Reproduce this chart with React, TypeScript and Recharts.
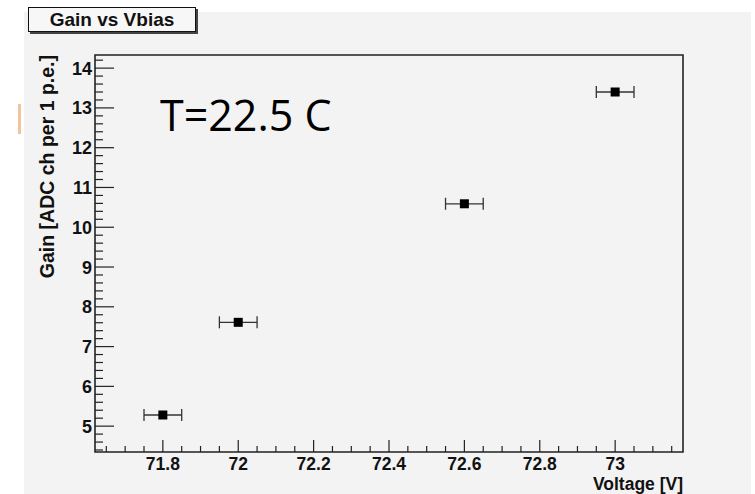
import { ScatterChart, Scatter, XAxis, YAxis, ErrorBar, ReferenceArea } from "recharts";

// measured points: bias voltage [V] vs gain [ADC ch per 1 p.e.]
const voltage = [71.8, 72.0, 72.6, 73.0];
const gain = [5.28, 7.61, 10.59, 13.4];
const voltageErr = [0.05, 0.05, 0.05, 0.05];

const xMajor = [71.8, 72, 72.2, 72.4, 72.6, 72.8, 73];
const yMajor = [5, 6, 7, 8, 9, 10, 11, 12, 13, 14];

const X_DOMAIN: [number, number] = [71.62, 73.18];
const Y_DOMAIN: [number, number] = [4.35, 14.33];

const points = voltage.map((v, i) => ({ v, g: gain[i], vErr: voltageErr[i] }));

// minor ticks: 4 divisions on x, 5 on y (ROOT style)
const subdivide = (step: number, domain: [number, number]) => {
  const out: number[] = [];
  const start = Math.ceil(domain[0] / step - 1e-6);
  const end = Math.floor(domain[1] / step + 1e-6);
  for (let i = start; i <= end; i++) out.push(Math.round(i * step * 1000) / 1000);
  return out;
};
const xTicks = subdivide(0.05, X_DOMAIN);
const yTicks = subdivide(0.2, Y_DOMAIN);

const isMajor = (val: number, majors: number[]) => majors.some((m) => Math.abs(m - val) < 1e-6);

const FONT = "'Liberation Sans', Arial, sans-serif";

const XTick = (props: any) => {
  const { x, y, payload } = props;
  const major = isMajor(payload.value, xMajor);
  return (
    <g>
      <line x1={x} y1={y} x2={x} y2={y - (major ? 12 : 6)} stroke="#222" strokeWidth={1.2} />
      {major && (
        <text x={x} y={y + 18} textAnchor="middle" fontFamily={FONT} fontWeight="bold" fontSize={17.5} fill="#111">
          {payload.value}
        </text>
      )}
    </g>
  );
};

const YTick = (props: any) => {
  const { x, y, payload } = props;
  const major = isMajor(payload.value, yMajor);
  return (
    <g>
      <line x1={x} y1={y} x2={x + (major ? 19 : 8)} y2={y} stroke="#222" strokeWidth={1.2} />
      {major && (
        <text x={x - 3} y={y + 6.5} textAnchor="end" fontFamily={FONT} fontWeight="bold" fontSize={18} fill="#111">
          {payload.value}
        </text>
      )}
    </g>
  );
};

const Marker = (props: any) => {
  const { cx, cy } = props;
  return <rect x={cx - 4.5} y={cy - 4.5} width={9} height={9} fill="#000" />;
};

export default function App() {
  return (
    <div style={{ position: "absolute", left: 0, top: 0, width: 755, height: 494, background: "#fff", overflow: "hidden" }}>
      {/* canvas pad */}
      <div style={{ position: "absolute", left: 24, top: 12, width: 727, height: 482, background: "#f3f3f3" }} />
      {/* stray orange mark from the slide */}
      <div style={{ position: "absolute", left: 18, top: 104, width: 3, height: 30, background: "#f2c49a" }} />

      <div style={{ position: "absolute", left: 0, top: 0 }}>
        <ScatterChart width={755} height={494} margin={{ top: 55, right: 72, left: 35, bottom: 0 }}>
          <XAxis
            type="number"
            dataKey="v"
            domain={X_DOMAIN}
            ticks={xTicks}
            interval={0}
            tick={<XTick />}
            tickLine={false}
            axisLine={false}
            tickSize={0}
            tickMargin={0}
            height={42}
            allowDataOverflow
          />
          <YAxis
            type="number"
            dataKey="g"
            domain={Y_DOMAIN}
            ticks={yTicks}
            interval={0}
            tick={<YTick />}
            tickLine={false}
            axisLine={false}
            tickSize={0}
            tickMargin={0}
            width={60}
            allowDataOverflow
          />
          <ReferenceArea
            x1={X_DOMAIN[0]}
            x2={X_DOMAIN[1]}
            y1={Y_DOMAIN[0]}
            y2={Y_DOMAIN[1]}
            fill="none"
            stroke="#222"
            strokeWidth={1.6}
            ifOverflow="visible"
          />
          <Scatter data={points} shape={<Marker />} isAnimationActive={false}>
            <ErrorBar dataKey="vErr" direction="x" width={6} stroke="#333" strokeWidth={1.3} isAnimationActive={false} />
          </Scatter>
        </ScatterChart>
      </div>

      {/* axis titles */}
      <svg width={755} height={494} style={{ position: "absolute", left: 0, top: 0, pointerEvents: "none" }}>
        <text x={683} y={490} textAnchor="end" fontFamily={FONT} fontWeight="bold" fontSize={17.5} fill="#111">
          Voltage [V]
        </text>
        <text
          transform="translate(54,55) rotate(-90)"
          textAnchor="end"
          fontFamily={FONT}
          fontWeight="bold"
          fontSize={19.5}
          fill="#111"
        >
          Gain [ADC ch per 1 p.e.]
        </text>
        <text x={160} y={131} fontFamily="'Open Sans', 'Noto Sans', sans-serif" fontSize={43} fill="#000">
          T=22.5 C
        </text>
      </svg>

      {/* title box */}
      <div
        style={{
          position: "absolute",
          left: 28,
          top: 7,
          width: 166,
          height: 23,
          background: "#f7f7f7",
          border: "1px solid #111",
          boxShadow: "2px 2px 0 #444",
          fontFamily: FONT,
          fontWeight: "bold",
          fontSize: 19,
          lineHeight: "23px",
          textAlign: "center",
          color: "#111",
        }}
      >
        Gain vs Vbias
      </div>
    </div>
  );
}
